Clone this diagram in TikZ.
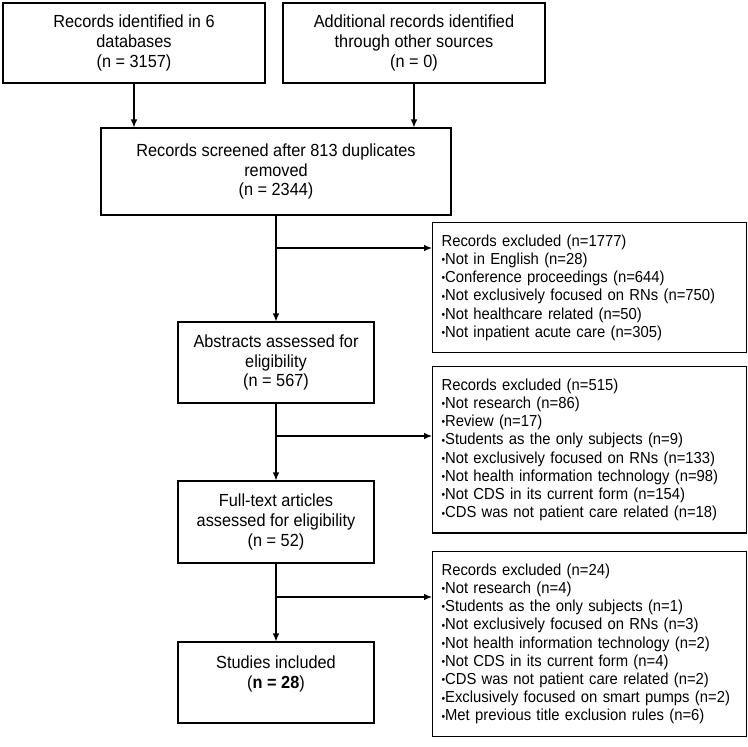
\documentclass[tikz,border=0pt]{standalone}
\usepackage{fontspec}
\setmainfont[FakeStretch=0.93]{Liberation Sans}
\usetikzlibrary{arrows.meta}
\newcommand{\bul}{\raisebox{0.6bp}{\fontsize{11}{11}\selectfont\textbullet}}

\begin{document}
\begin{tikzpicture}[x=1bp, y=-1bp, >={Latex[length=8bp,width=6.5bp]}, line width=1.1bp,
    box/.style={draw, align=center, inner sep=0pt, font=\fontsize{17.6}{20}\selectfont},
    excl/.style={draw, anchor=north west, align=left, text width=296bp, inner xsep=9bp, inner ysep=12bp, font=\fontsize{16}{18.3}\selectfont}]
    \useasboundingbox (0,0) rectangle (748,747);

    \node[box, minimum width=262bp, minimum height=80bp] (ident) at (134, 43) {Records identified in 6\\databases\\(n = 3157)};
    \node[box, minimum width=262bp, minimum height=80bp] (other) at (414, 43) {Additional records identified\\through other sources\\(n = 0)};
    \node[box, minimum width=350bp, minimum height=87bp] (screened) at (276, 171.5) {Records screened after 813 duplicates\\removed\\(n = 2344)};
    \node[box, minimum width=196bp, minimum height=81bp] (abstracts) at (276, 362.5) {Abstracts assessed for\\eligibility\\(n = 567)};
    \node[box, minimum width=196bp, minimum height=82bp] (fulltext) at (276, 522) {Full-text articles\\assessed for eligibility\\(n = 52)};
    \node[box, minimum width=196bp, minimum height=81bp] (included) at (276, 682.5) {Studies included\\(\textbf{n = 28})\\\mbox{}};

    \node[excl] (excl1) at (432, 222) {Records excluded (n=1777)\\
        \bul Not in English (n=28)\\
        \bul Conference proceedings (n=644)\\
        \bul Not exclusively focused on RNs (n=750)\\
        \bul Not healthcare related (n=50)\\
        \bul Not inpatient acute care (n=305)\par\vspace{5bp}};
    \node[excl] (excl2) at (432, 366) {Records excluded (n=515)\\
        \bul Not research (n=86)\\
        \bul Review (n=17)\\
        \bul Students as the only subjects (n=9)\\
        \bul Not exclusively focused on RNs (n=133)\\
        \bul Not health information technology (n=98)\\
        \bul Not CDS in its current form (n=154)\\
        \bul CDS was not patient care related (n=18)\par\vspace{5bp}};
    \node[excl] (excl3) at (432, 551) {Records excluded (n=24)\\
        \bul Not research (n=4)\\
        \bul Students as the only subjects (n=1)\\
        \bul Not exclusively focused on RNs (n=3)\\
        \bul Not health information technology (n=2)\\
        \bul Not CDS in its current form (n=4)\\
        \bul CDS was not patient care related (n=2)\\
        \bul Exclusively focused on smart pumps (n=2)\\
        \bul Met previous title exclusion rules (n=6)\par\vspace{5bp}};

    \coordinate (br1) at (276, 248);
    \coordinate (br2) at (276, 436);
    \coordinate (br3) at (276, 597);

    \draw [->] (ident) -- (ident |- screened.north);
    \draw [->] (other) -- (other |- screened.north);
    \draw [->] (screened) -- (abstracts);
    \draw [->] (abstracts) -- (fulltext);
    \draw [->] (fulltext) -- (included);
    \draw [->] (br1) -- (br1 -| excl1.west);
    \draw [->] (br2) -- (br2 -| excl2.west);
    \draw [->] (br3) -- (br3 -| excl3.west);
\end{tikzpicture}
\end{document}
